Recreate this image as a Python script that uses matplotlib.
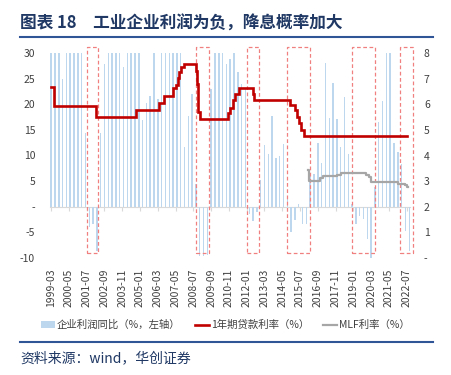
import matplotlib
matplotlib.use("Agg")
import matplotlib.pyplot as plt
from matplotlib.patches import Rectangle
from matplotlib.lines import Line2D
from matplotlib.ticker import FuncFormatter
import pandas as pd

plt.rcParams['font.family'] = ['Noto Sans CJK SC', 'DejaVu Sans']

# === data ===
# 工业企业利润累计同比（%），季度，1999-03 起；>30 的柱子在图中被截断
profit_start = '1999-03'
profit_yoy = [35, 35, 35, 25.0, 35, 35, 35, 35, 35, 14.4,
              -4.0, -3.5, -8.6, 14.4, 28.0, 35, 35, 35, 35, 27.3,
              35, 35, 35, 35, 17.0, 20.3, 21.6, 35, 21.1, 35,
              35, 35, 35, 35, 35, 11.6, 17.7, 22.0, 4.5, -9.7,
              -9.7, -9.5, 23.0, 35, 35, 35, 27.9, 28.9, 30.5, 26.3,
              23.9, 23.0, -1.4, -2.9, -1.0, 5.3, 12.1, 10.3, 17.7, 9.6,
              9.9, 12.3, 1.8, -5.0, -2.7, 0.6, -3.5, -3.5, 6.0, 6.4,
              12.5, 8.6, 28.1, 17.4, 24.1, 17.2, 11.6, 21.4, 10.3, 0.6,
              -3.4, -1.8, -2.4, -6.3, -10.5, 3.9, 16.6, 20.7, 35, 35,
              12.5, 10.6, 8.3, -4.7, -8.7]

# 1年期贷款利率（%），调整月份与调整后水平
loan_dates = ['1999-03', '1999-05', '2002-02', '2004-10', '2006-04', '2006-08',
              '2007-03', '2007-05', '2007-07', '2007-08', '2007-09', '2007-12',
              '2008-09', '2008-10', '2008-11', '2008-12', '2010-10', '2010-12',
              '2011-02', '2011-04', '2011-07', '2012-06', '2012-07', '2014-11',
              '2015-03', '2015-05', '2015-06', '2015-08', '2015-10', '2022-07']
loan_rate = [6.67, 5.95, 5.52, 5.78, 6.05, 6.34,
             6.63, 6.76, 7.02, 7.28, 7.48, 7.58,
             7.30, 6.80, 5.70, 5.43, 5.65, 5.85,
             6.17, 6.40, 6.66, 6.40, 6.17, 5.98,
             5.78, 5.52, 5.26, 5.00, 4.78, 4.78]

# MLF利率（%）
mlf_dates = ['2016-01', '2016-02', '2016-11', '2017-01', '2017-12', '2018-03',
             '2019-11', '2020-01', '2020-03', '2021-12', '2022-06', '2022-07',
             '2022-08']
mlf_rate = [3.42, 3.02, 3.10, 3.18, 3.25, 3.32,
            3.25, 3.15, 2.98, 2.88, 2.83, 2.76,
            2.76]

xtick_labels = ['1999-03', '2000-05', '2001-07', '2002-09', '2003-11', '2005-01',
                '2006-03', '2007-05', '2008-07', '2009-09', '2010-11', '2012-01',
                '2013-03', '2014-05', '2015-07', '2016-09', '2017-11', '2019-01',
                '2020-03', '2021-05', '2022-07']

# 红色虚线框：起止月份
box_periods = [('2001-07', '2002-04'), ('2008-09', '2009-07'), ('2012-01', '2012-11'),
               ('2014-09', '2016-03'), ('2018-12', '2020-06'), ('2022-02', '2022-12')]


def month_index(s):
    return (pd.Period(s, 'M') - pd.Period(profit_start, 'M')).n


bar_x = [3 * i for i in range(len(profit_yoy))]
loan_x = [month_index(d) for d in loan_dates]
mlf_x = [month_index(d) for d in mlf_dates]
tick_x = [month_index(d) for d in xtick_labels]

W, H = 451, 375
fig = plt.figure(figsize=(W / 100, H / 100), dpi=100)
ax = fig.add_axes([50.4 / W, 1 - 257.7 / H, (410 - 50.4) / W, (257.7 - 53.3) / H])

ax.bar(bar_x, profit_yoy, width=1.15, color='#BDD7EE', linewidth=0,
       label='企业利润同比（%，左轴）', zorder=2)
ax.set_xlim(-0.6, 282.6)
ax.set_ylim(-10, 30)
ax.set_yticks(range(-10, 31, 5))
ax.yaxis.set_major_formatter(FuncFormatter(lambda v, p: '-' if v == 0 else f'{v:.0f}'))
ax.set_xticks(tick_x, xtick_labels, rotation=90)
ax.tick_params(axis='x', length=0, pad=8, labelsize=7.5, labelcolor='#404040')
ax.tick_params(axis='y', length=0, pad=11, labelsize=7.5, labelcolor='#404040')
for s in ax.spines.values():
    s.set_visible(False)

# baseline at zero with small ticks
base = ax.secondary_xaxis(0.25)
base.set_xticks(tick_x, [''] * len(tick_x))
base.tick_params(axis='x', length=3, width=0.8, color='#D9D9D9', direction='out')
base.spines['bottom'].set_color('#D9D9D9')
base.spines['bottom'].set_linewidth(0.8)

# dashed boxes
for a, b in box_periods:
    x0 = month_index(a)
    x1 = month_index(b)
    ax.add_patch(Rectangle((x0, -9.0), x1 - x0, 40.2, fill=False, edgecolor='#F08080',
                           linestyle=(0, (3, 2)), linewidth=0.9, clip_on=False, zorder=3))

ax2 = ax.twinx()
ax2.plot(loan_x, loan_rate, drawstyle='steps-post', color='#C00000', linewidth=1.9,
         label='1年期贷款利率（%）', solid_joinstyle='miter')
ax2.plot(mlf_x, mlf_rate, drawstyle='steps-post', color='#A6A6A6', linewidth=1.6,
         label='MLF利率（%）')
ax2.set_ylim(0, 8)
ax2.set_yticks(range(0, 9))
ax2.yaxis.set_major_formatter(FuncFormatter(lambda v, p: '-' if v == 0 else f'{v:.0f}'))
ax2.tick_params(axis='y', length=0, pad=10, labelsize=7.5, labelcolor='#404040')
for s in ax2.spines.values():
    s.set_visible(False)

h1, l1 = ax.get_legend_handles_labels()
h2, l2 = ax2.get_legend_handles_labels()
fig.legend(h1 + h2, l1 + l2, loc='center', bbox_to_anchor=(0.5, 1 - 325 / H), ncol=3,
           frameon=False, fontsize=7.5, handlelength=1.3, handleheight=0.6,
           handletextpad=0.2, columnspacing=1.4, labelcolor='#404040')

# title, rules and source
fig.text(20.5 / W, 1 - 24 / H, '图表 18\u3000工业企业利润为负，降息概率加大', fontsize=12,
         weight='bold', color='#1F3864', va='center', ha='left')
fig.add_artist(Line2D([20 / W, 433 / W], [1 - 37.3 / H] * 2, color='#2F5597', linewidth=1.5))
fig.add_artist(Line2D([20 / W, 433 / W], [1 - 341.7 / H] * 2, color='#2F5597', linewidth=1.5))
fig.text(20.5 / W, 1 - 358 / H, '资料来源：wind，华创证券', fontsize=10, style='italic',
         color='#1F3864', va='center', ha='left')

fig.savefig('out.png', dpi=100)
